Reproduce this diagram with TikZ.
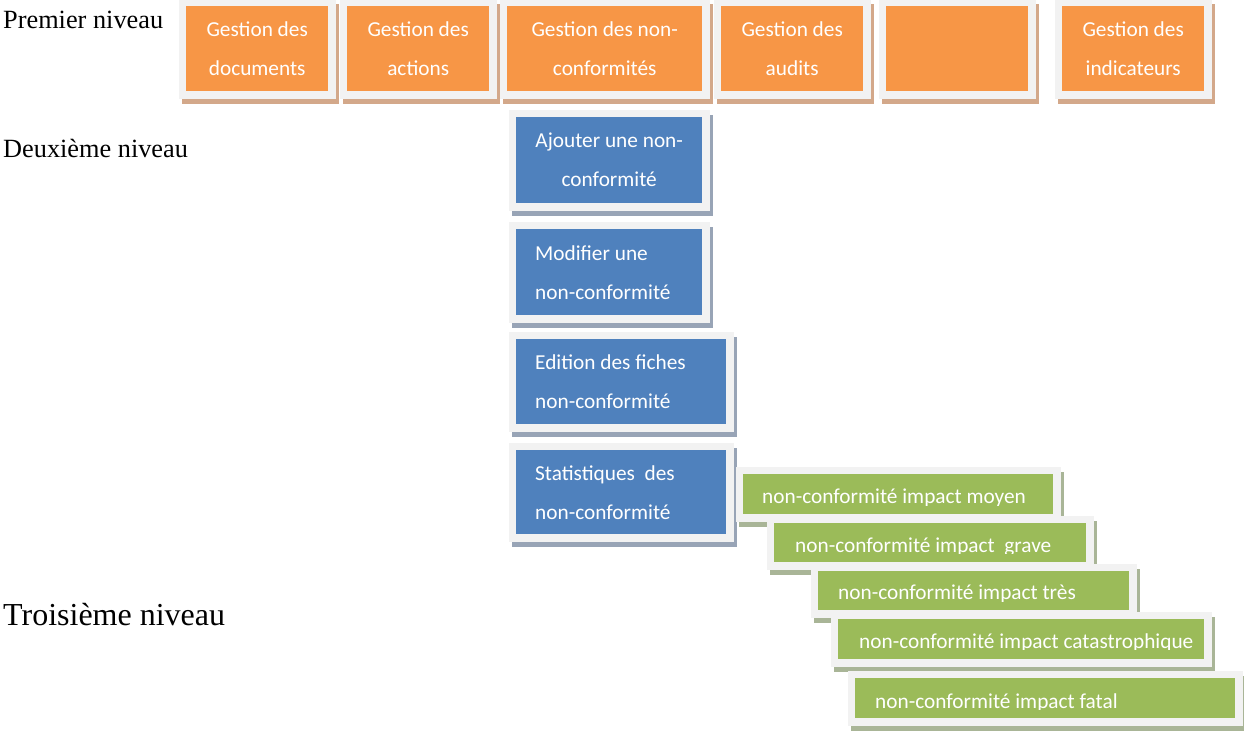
\documentclass[tikz,border=0pt]{standalone}
\usepackage{fontspec}
\setmainfont{Liberation Serif}
\newfontfamily\boxfont{Carlito}
\definecolor{framegray}{HTML}{F2F2F2}
\definecolor{oran}{HTML}{F79646}
\definecolor{oranshadow}{HTML}{D3A88A}
\definecolor{blu}{HTML}{4F81BD}
\definecolor{blushadow}{HTML}{98A4B6}
\definecolor{gre}{HTML}{9BBB59}
\definecolor{greshadow}{HTML}{A9B597}
\begin{document}
\begin{tikzpicture}[x=1pt,y=-1pt,
  basebox/.style={rectangle, inner sep=0pt, anchor=north west, text=white,
    font=\boxfont\fontsize{21.3}{39}\selectfont},
  ccbox/.style={basebox, fill=#1,
    preaction={fill=#1shadow, draw=#1shadow, line width=15pt, transform canvas={shift={(3pt,-5pt)}}},
    preaction={draw=framegray, line width=15pt}},
  obox/.style={ccbox=oran, align=center},
  bbox/.style={ccbox=blu},
  gbox/.style={ccbox=gre},
  gtext/.style={inner sep=0pt, anchor=base west, text=white, font=\boxfont\fontsize{21.3}{25}\selectfont},
  lvl/.style={inner sep=0pt, anchor=base west, font=\fontsize{26.3}{30}\selectfont},
]
\useasboundingbox (0,0) rectangle (1244,731);

% level labels
\node[lvl] (l1) at (3,28) {Premier niveau};
\node[lvl] (l2) at (3,157) {Deuxième niveau};
\node[lvl, font=\fontsize{32}{36}\selectfont] (l3) at (3,625) {Troisième niveau};

% first level
\node[obox, minimum width=142pt, minimum height=85pt] (o1) at (186,6) {Gestion des\\documents};
\node[obox, minimum width=142pt, minimum height=85pt] (o2) at (347,6) {Gestion des\\actions};
\node[obox, minimum width=195pt, minimum height=85pt] (o3) at (507,6) {Gestion des non-\\conformités};
\node[obox, minimum width=142pt, minimum height=85pt] (o4) at (721,6) {Gestion des\\audits};
\node[obox, minimum width=142pt, minimum height=85pt] (o5) at (886,6) {};
\node[obox, minimum width=142pt, minimum height=85pt] (o6) at (1062,6) {Gestion des\\indicateurs};

% second level
\node[bbox, align=center, minimum width=186pt, minimum height=86pt] (b1) at (516,117) {Ajouter une non-\\conformité};
\node[bbox, align=flush left, text width=148pt, minimum height=86pt, minimum width=186pt] (b2) at (516,229) {Modifier une\\non-conformité};
\node[bbox, align=flush left, text width=172pt, minimum height=85pt, minimum width=210pt] (b3) at (516,339) {Edition des fiches\\non-conformité};
\node[bbox, align=flush left, text width=172pt, minimum height=84pt, minimum width=210pt] (b4) at (516,450) {Statistiques\ \ des\\non-conformité};

% third level
\node[gbox, minimum width=310pt, minimum height=40pt] (g1) at (743,474) {};
\begin{scope}
\clip (g1.north west) rectangle ([yshift=9pt]g1.south east);
\node[gtext] (g1t) at ([xshift=19pt,yshift=11pt]g1.south west) {non-conformité impact moyen};
\end{scope}
\node[gbox, minimum width=312pt, minimum height=39pt] (g2) at (774,523) {};
\begin{scope}
\clip (g2.north west) rectangle ([yshift=9pt]g2.south east);
\node[gtext] (g2t) at ([xshift=21pt,yshift=10pt]g2.south west) {non-conformité impact\ \ grave};
\end{scope}
\node[gbox, minimum width=311pt, minimum height=39pt] (g3) at (818,571) {};
\begin{scope}
\clip (g3.north west) rectangle ([yshift=9pt]g3.south east);
\node[gtext] (g3t) at ([xshift=20pt,yshift=11pt]g3.south west) {non-conformité impact très};
\end{scope}
\node[gbox, minimum width=366pt, minimum height=40pt] (g4) at (838,619) {};
\begin{scope}
\clip (g4.north west) rectangle ([yshift=10pt]g4.south east);
\node[gtext] (g4t) at ([xshift=21pt,yshift=11pt]g4.south west) {non-conformité impact catastrophique};
\end{scope}
\node[gbox, minimum width=380pt, minimum height=40pt] (g5) at (855,678) {};
\begin{scope}
\clip (g5.north west) rectangle ([yshift=9pt]g5.south east);
\node[gtext] (g5t) at ([xshift=20pt,yshift=10pt]g5.south west) {non-conformité impact fatal};
\end{scope}
\end{tikzpicture}
\end{document}
